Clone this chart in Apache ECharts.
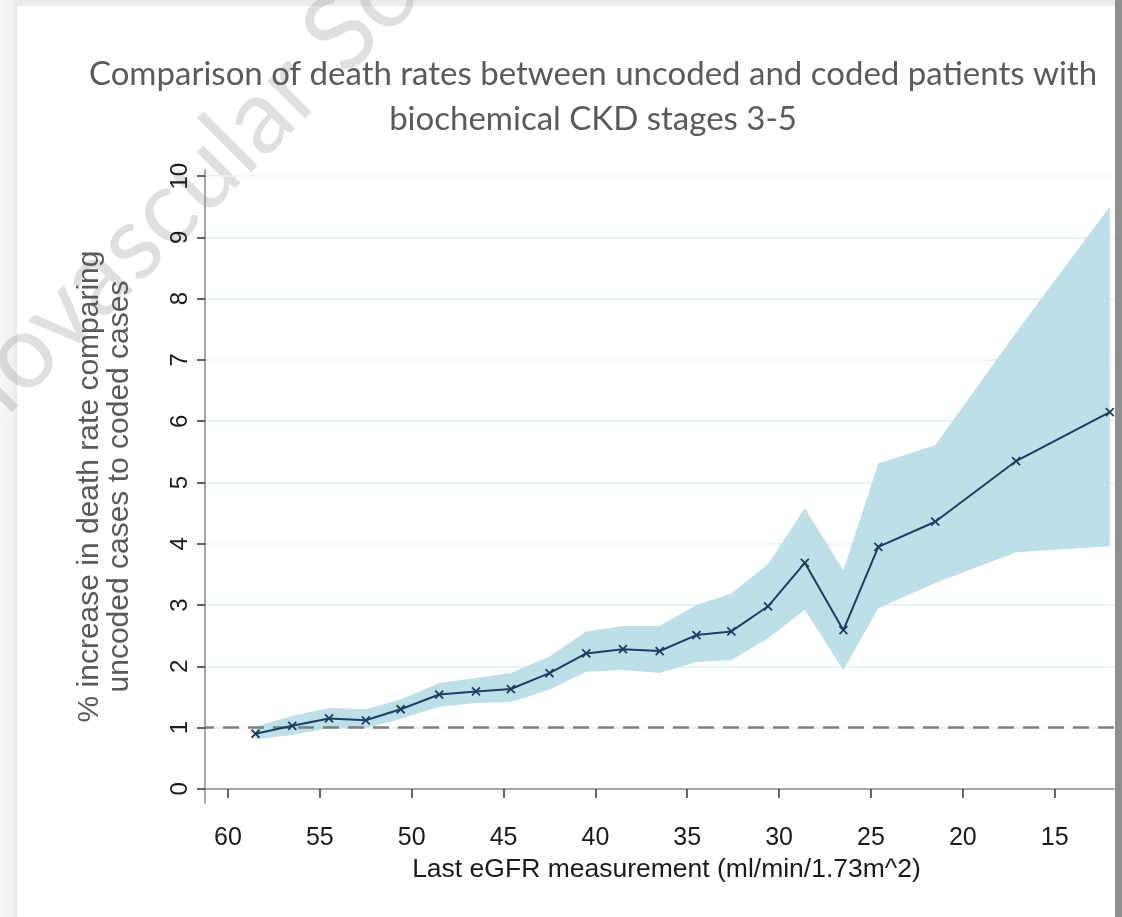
<!DOCTYPE html>
<html><head><meta charset="utf-8">
<script src="https://cdn.jsdelivr.net/npm/echarts@6/dist/echarts.min.js"></script>
<style>html,body{margin:0;padding:0;background:#fff}#c{width:1122px;height:917px}</style>
</head><body><div id="c"></div>
<script>
// eGFR bin (x), ratio estimate and its confidence band
const egfr     = [58.5, 56.5, 54.5, 52.5, 50.6, 48.5, 46.5, 44.6, 42.5, 40.5, 38.5, 36.5, 34.5, 32.6, 30.6, 28.6, 26.5, 24.6, 21.5, 17.1, 12.0];
const increase = [0.90, 1.03, 1.15, 1.12, 1.30, 1.54, 1.59, 1.63, 1.89, 2.21, 2.28, 2.25, 2.51, 2.57, 2.98, 3.69, 2.59, 3.95, 4.36, 5.35, 6.15];
const upperCI  = [1.02, 1.19, 1.32, 1.30, 1.46, 1.73, 1.81, 1.89, 2.16, 2.57, 2.66, 2.66, 3.00, 3.19, 3.67, 4.58, 3.57, 5.31, 5.61, 7.45, 9.50];
const lowerCI  = [0.81, 0.88, 0.99, 0.99, 1.14, 1.34, 1.40, 1.42, 1.62, 1.91, 1.94, 1.89, 2.07, 2.10, 2.46, 2.92, 1.94, 2.95, 3.36, 3.86, 3.96];
const xTicks = [60, 55, 50, 45, 40, 35, 30, 25, 20, 15];
const yTicks = [0, 1, 2, 3, 4, 5, 6, 7, 8, 9, 10];
const referenceLevel = 1;

const titleText = 'Comparison of death rates between uncoded and coded patients with\nbiochemical CKD stages 3-5';
const yName = '% increase in death rate comparing\nuncoded cases to coded cases';
const xName = 'Last eGFR measurement (ml/min/1.73m^2)';
const watermark = 'Cardiovascular Science';

const chart = echarts.init(document.getElementById('c'), null, {renderer: 'canvas'});
const axisFont = 'Liberation Sans, Arial, sans-serif';

chart.setOption({
  backgroundColor: '#ffffff',
  animation: false,
  graphic: [
    {type: 'rect', z: 0, shape: {x: 0, y: 0, width: 1122, height: 6}, style: {fill: '#ebebeb'}},
    {type: 'rect', z: 0, shape: {x: 0, y: 0, width: 17, height: 917},
      style: {fill: new echarts.graphic.LinearGradient(0, 0, 1, 0, [{offset: 0, color: '#f7f7f7'}, {offset: 0.75, color: '#f1f1f1'}, {offset: 1, color: '#e6e6e6'}])}},
    {type: 'rect', z: 0, shape: {x: 1115, y: 0, width: 7, height: 917}, style: {fill: '#8f8f8f'}},
    {type: 'text', z: 0, x: -170, y: 546, rotation: Math.PI / 4,
      style: {text: watermark, font: '104px Lato, sans-serif', fill: 'rgba(150,150,150,0.3)', textAlign: 'left', textVerticalAlign: 'middle'}},
    {type: 'text', z: 10, x: 593, y: 97,
      style: {text: titleText, font: '33px Lato, sans-serif', fill: '#5a5a5a', textAlign: 'center', textVerticalAlign: 'middle', lineHeight: 45}}
  ],
  grid: {left: 205, right: 8, top: 170, bottom: 114, containLabel: false},
  xAxis: {
    type: 'value', inverse: true, min: 11.77, max: 61.25,
    axisLine: {show: true, lineStyle: {color: '#8a8a8a', width: 1.5}},
    axisTick: {show: true, length: 9, customValues: xTicks, lineStyle: {color: '#333', width: 1.5}},
    axisLabel: {customValues: xTicks, fontSize: 25, fontFamily: axisFont, color: '#1a1a1a', margin: 23},
    splitLine: {show: false},
    name: xName, nameLocation: 'middle', nameGap: 41,
    nameTextStyle: {fontSize: 26.5, fontFamily: axisFont, color: '#1a1a1a', padding: [0, 0, 0, 14]}
  },
  yAxis: {
    type: 'value', min: -0.23, max: 10.1,
    axisLine: {show: true, lineStyle: {color: '#8a8a8a', width: 1.5}},
    axisTick: {show: true, length: 8, customValues: yTicks, lineStyle: {color: '#333', width: 1.5}},
    axisLabel: {customValues: yTicks, rotate: 90, fontSize: 24, fontFamily: axisFont, color: '#1a1a1a', margin: 13},
    splitLine: {show: true, lineStyle: {color: '#e9f2f4', width: 2}},
    name: yName, nameLocation: 'middle', nameGap: 70,
    nameTextStyle: {fontSize: 30, fontFamily: axisFont, color: '#595959', lineHeight: 30}
  },
  series: [
    {
      type: 'custom', name: 'band', z: 1, silent: true,
      data: [[egfr[0], upperCI[0]]],
      renderItem: function (params, api) {
        const pts = [];
        for (let i = 0; i < egfr.length; i++) pts.push(api.coord([egfr[i], upperCI[i]]));
        for (let i = egfr.length - 1; i >= 0; i--) pts.push(api.coord([egfr[i], lowerCI[i]]));
        return {type: 'polygon', shape: {points: pts}, style: {fill: '#bddfe8', stroke: null}};
      }
    },
    {
      type: 'line', name: 'increase', z: 3,
      data: egfr.map((x, i) => [x, increase[i]]),
      symbol: 'path://M0,0L10,10M10,0L0,10', symbolSize: 8,
      itemStyle: {color: 'transparent', borderColor: '#1c3e64', borderWidth: 1.8},
      lineStyle: {color: '#1c3e64', width: 2},
      markLine: {
        silent: true, symbol: 'none', z: 2,
        label: {show: false},
        lineStyle: {type: [16, 9], color: '#7f7f7f', width: 2.5},
        data: [{yAxis: referenceLevel}]
      }
    }
  ]
});
</script>
</body></html>
